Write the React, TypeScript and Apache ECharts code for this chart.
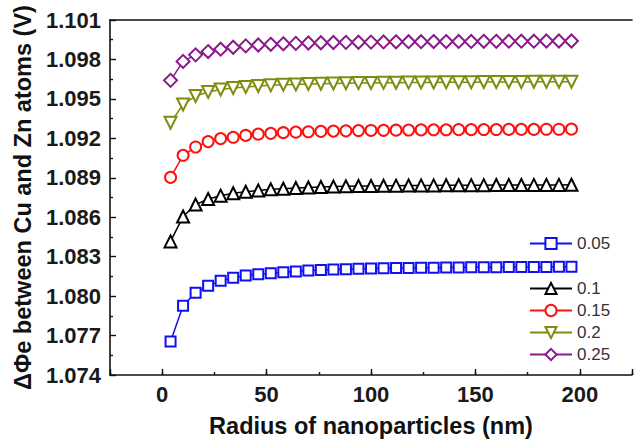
import React, { useEffect, useRef } from 'react';
import * as echarts from 'echarts';

const radius = [4, 10, 16, 22, 28, 34, 40, 46, 52, 58, 64, 70, 76, 82, 88, 94, 100, 106, 112, 118, 124, 130, 136, 142, 148, 154, 160, 166, 172, 178, 184, 190, 196];

const seriesNames = ['0.05', '0.1', '0.15', '0.2', '0.25'];

const v005 = [1.07655, 1.07927, 1.08025, 1.08078, 1.08116, 1.08139, 1.08156, 1.08166, 1.08174, 1.08181, 1.08187, 1.08194, 1.08198, 1.08202, 1.08205, 1.08208, 1.0821, 1.08212, 1.08213, 1.08214, 1.08215, 1.08216, 1.08217, 1.08218, 1.08219, 1.0822, 1.0822, 1.08221, 1.08221, 1.08222, 1.08222, 1.08223, 1.08223];
const v01 = [1.08416, 1.08605, 1.08696, 1.08739, 1.08764, 1.08782, 1.08794, 1.08804, 1.08812, 1.08817, 1.08822, 1.08826, 1.0883, 1.08833, 1.08835, 1.08837, 1.08838, 1.08839, 1.0884, 1.08841, 1.08842, 1.08842, 1.08843, 1.08843, 1.08844, 1.08844, 1.08845, 1.08845, 1.08845, 1.08846, 1.08846, 1.08846, 1.08847];
const v015 = [1.08903, 1.09071, 1.09134, 1.09175, 1.09198, 1.09208, 1.09222, 1.09232, 1.09238, 1.09243, 1.09247, 1.0925, 1.09253, 1.09255, 1.09257, 1.09259, 1.0926, 1.09261, 1.09262, 1.09263, 1.09264, 1.09265, 1.09265, 1.09266, 1.09266, 1.09267, 1.09267, 1.09268, 1.09268, 1.09268, 1.09269, 1.09269, 1.0927];
const v02 = [1.09319, 1.09457, 1.09522, 1.09553, 1.09571, 1.09583, 1.09591, 1.09598, 1.09603, 1.09607, 1.0961, 1.09613, 1.09615, 1.09617, 1.09619, 1.0962, 1.09621, 1.09622, 1.09623, 1.09624, 1.09625, 1.09625, 1.09626, 1.09627, 1.09627, 1.09628, 1.09628, 1.09629, 1.09629, 1.0963, 1.0963, 1.0963, 1.09631];
const v025 = [1.09641, 1.09785, 1.09835, 1.0986, 1.09878, 1.09893, 1.09903, 1.0991, 1.09915, 1.09919, 1.09922, 1.09925, 1.09927, 1.09929, 1.0993, 1.09931, 1.09932, 1.09933, 1.09934, 1.09935, 1.09935, 1.09936, 1.09936, 1.09937, 1.09937, 1.09938, 1.09938, 1.09939, 1.09939, 1.09939, 1.0994, 1.0994, 1.0994];

const allValues = [v005, v01, v015, v02, v025];
const colors = ['#1010f0', '#000000', '#ff1010', '#7f8c10', '#8a1a8a'];
const symbols = ['emptyRect', 'emptyTriangle', 'emptyCircle', 'emptyTriangle', 'emptyDiamond'];
const symbolRotates = [0, 0, 0, 180, 0];
const symbolSizes = [10, 12, 11, 12, 13];

const FONT = '"Liberation Sans", Arial, sans-serif';

export default function App() {
  const ref = useRef<HTMLDivElement>(null);
  useEffect(() => {
    if (!ref.current) return;
    const chart = echarts.init(ref.current, undefined, { renderer: 'svg' });
    const series = seriesNames.map((name, i) => ({
      name,
      type: 'line',
      xAxisIndex: 0,
      yAxisIndex: 0,
      data: radius.map((r, j) => [r, allValues[i][j]]),
      symbol: symbols[i],
      symbolSize: symbolSizes[i],
      symbolRotate: symbolRotates[i],
      showAllSymbol: true,
      color: colors[i],
      lineStyle: { color: colors[i], width: 1.5 },
      itemStyle: { color: colors[i], borderWidth: 2 },
      z: 2 + i,
    }));
    const legendCommon = {
      orient: 'vertical',
      left: 529,
      padding: 0,
      itemWidth: 42,
      itemHeight: 14,
      itemGap: 5,
      textStyle: { fontFamily: FONT, fontSize: 17, color: '#333' },
    };
    chart.setOption({
      animation: false,
      backgroundColor: '#ffffff',
      grid: { left: 110, top: 20, right: -2, bottom: 65, containLabel: false },
      legend: [
        { ...legendCommon, top: 235, data: ['0.05'] },
        { ...legendCommon, top: 280, data: ['0.1', '0.15', '0.2', '0.25'] },
      ],
      xAxis: [
        {
          type: 'value',
          min: -25,
          max: 225,
          interval: 25,
          position: 'bottom',
          name: 'Radius of nanoparticles (nm)',
          nameLocation: 'middle',
          nameGap: 39,
          nameTextStyle: { fontFamily: FONT, fontSize: 23.5, fontWeight: 'bold', color: '#111' },
          axisLine: { show: true, onZero: false, lineStyle: { color: '#111', width: 1.6 } },
          axisTick: { show: true, inside: true, length: 3, lineStyle: { color: '#111', width: 1.4 } },
          axisLabel: {
            show: true,
            margin: 8,
            fontFamily: FONT,
            fontSize: 22,
            fontWeight: 'bold',
            color: '#1a1a1a',
            formatter: (v: number) => (v >= 0 && v <= 200 && v % 50 === 0 ? String(v) : ''),
          },
          splitLine: { show: false },
        },
        {
          type: 'value',
          min: -25,
          max: 225,
          position: 'bottom',
          axisLine: { show: false, onZero: false },
          axisTick: { show: true, inside: true, length: 6, lineStyle: { color: '#111', width: 1.4 } },
          axisLabel: { show: false },
          splitLine: { show: false },
        },
        {
          type: 'value',
          min: -25,
          max: 225,
          position: 'top',
          axisLine: { show: true, onZero: false, lineStyle: { color: '#111', width: 1.6 } },
          axisTick: { show: false },
          axisLabel: { show: false },
          splitLine: { show: false },
        },
      ],
      yAxis: [
        {
          type: 'value',
          min: 1.074,
          max: 1.101,
          interval: 0.003,
          name: 'ΔΦe between Cu and Zn atoms (V)',
          nameLocation: 'middle',
          nameGap: 74,
          nameTextStyle: { fontFamily: FONT, fontSize: 23.5, fontWeight: 'bold', color: '#111' },
          axisLine: { show: true, onZero: false, lineStyle: { color: '#111', width: 1.6 } },
          axisTick: { show: true, inside: true, length: 6, lineStyle: { color: '#111', width: 1.4 } },
          minorTick: { show: true, splitNumber: 2, length: 3, lineStyle: { color: '#111', width: 1.4 } },
          axisLabel: {
            margin: 9,
            fontFamily: FONT,
            fontSize: 22,
            fontWeight: 'bold',
            color: '#1a1a1a',
            formatter: (v: number) => v.toFixed(3),
          },
          splitLine: { show: false },
          minorSplitLine: { show: false },
        },
      ],
      series,
    });
    return () => chart.dispose();
  }, []);
  return <div ref={ref} style={{ position: 'absolute', left: 0, top: 0, width: 635, height: 443 }} />;
}
